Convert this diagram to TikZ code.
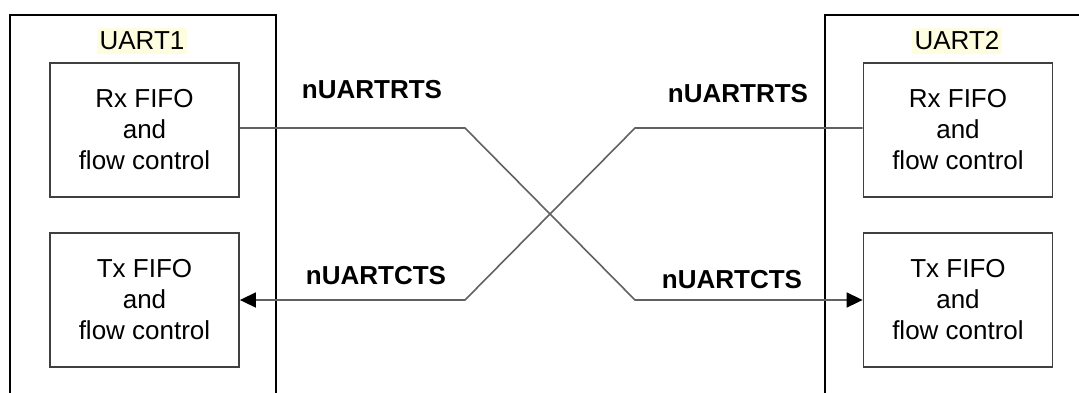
\documentclass[tikz,border=0pt]{standalone}
\usepackage{fontspec}
\setmainfont{Liberation Sans}
\usetikzlibrary{arrows.meta}
\begin{document}
\begin{tikzpicture}[x=1pt,y=-1pt,
  outer/.style={draw=black,line width=2.4pt},
  fifo/.style={draw=black!75,line width=1.8pt,fill=white,minimum width=189pt,minimum height=134pt,
    align=center,font=\fontsize{26}{31}\selectfont,inner sep=0pt},
  title/.style={fill=yellow!12,inner xsep=3pt,inner ysep=4pt,font=\fontsize{26}{31}\selectfont},
  sig/.style={font=\fontsize{26}{31}\selectfont\bfseries,inner sep=0pt},
  wire/.style={draw=black!62,line width=1.6pt},
  tip/.style={-{Triangle[length=16pt,width=15pt,color=black]}}
]
\useasboundingbox (0,0) rectangle (1079,392);
% outer UART frames (cropped)
\draw[outer] (10,394) -- (10,15) -- (276,15) -- (276,394);
\draw[outer] (825,394) -- (825,15) -- (1081,15);
\node[title] (u1) at (142,41) {UART1};
\node[title] (u2) at (957,41) {UART2};
% FIFO boxes
\node[fifo] (rx1) at (144.5,130) {Rx FIFO\\and\\flow control};
\node[fifo] (tx1) at (144.5,300) {Tx FIFO\\and\\flow control};
\node[fifo] (rx2) at (958,130) {Rx FIFO\\and\\flow control};
\node[fifo] (tx2) at (958,300) {Tx FIFO\\and\\flow control};
% bend points
\coordinate (a1) at (465,128);
\coordinate (a2) at (635,300);
\coordinate (b1) at (635,128);
\coordinate (b2) at (465,300);
% wires
\draw[wire,tip] ([yshift=2pt]rx1.east) -- (a1) -- (a2) -- (tx2.west);
\draw[wire,tip] ([yshift=2pt]rx2.west) -- (b1) -- (b2) -- (tx1.east);
% labels
\node[sig] (l1) at (372,90) {nUARTRTS};
\node[sig] (l2) at (738,94) {nUARTRTS};
\node[sig] (l3) at (376,276) {nUARTCTS};
\node[sig] (l4) at (732,280) {nUARTCTS};
\end{tikzpicture}
\end{document}
